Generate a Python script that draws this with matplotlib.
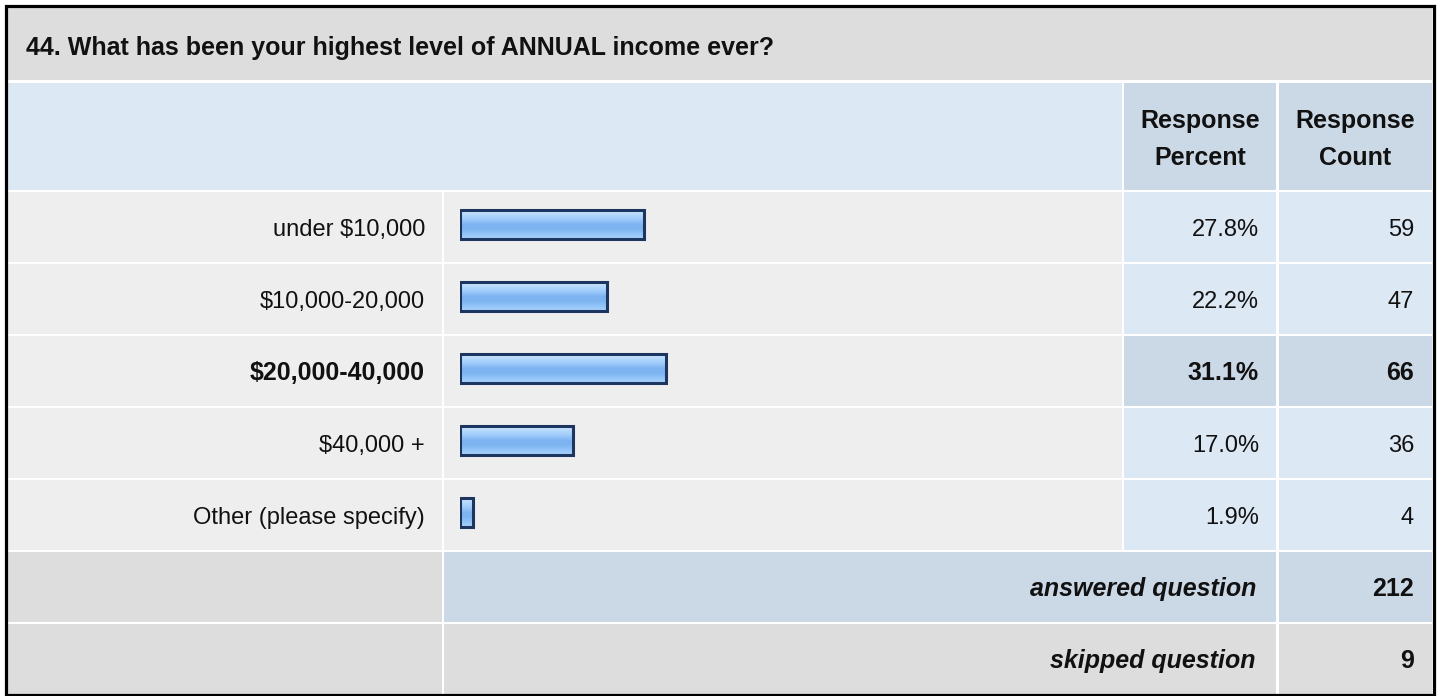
import numpy as np
import matplotlib
matplotlib.use("Agg")
import matplotlib.pyplot as plt
from matplotlib.patches import Rectangle

plt.rcParams['font.family'] = ['Liberation Sans', 'DejaVu Sans']

# data
title = "44. What has been your highest level of ANNUAL income ever?"
labels = ['under $10,000', '$10,000-20,000', '$20,000-40,000', '$40,000 +', 'Other (please specify)']
percents = [27.8, 22.2, 31.1, 17.0, 1.9]
counts = [59, 47, 66, 36, 4]
answered = 212
skipped = 9

GRAY = '#dddddd'
ROWBG = '#eeeeee'
LBLUE = '#dde8f5'
MBLUE = '#cbd8e6'
NAVY = '#1c3660'
TXT = '#111111'
FS, FSB = 17, 18   # normal / bold text sizes

W, H = 1440, 696
fig = plt.figure(figsize=(W / 100, H / 100), dpi=100)
ax = fig.add_axes([0, 0, 1, 1])
ax.set_xlim(0, W)
ax.set_ylim(H, 0)
ax.axis('off')

def cell(x0, x1, y0, y1, color):
    ax.add_patch(Rectangle((x0, y0), x1 - x0, y1 - y0, facecolor=color, edgecolor='none'))

# column / row edges (pixels)
cx = [8, 442, 444, 1122, 1124, 1276, 1279, 1432]
row0, pitch, rowh = 192, 72, 70

# title row
cell(8, 1432, 8, 80, GRAY)
ax.text(26, 55, title, fontsize=FSB, fontweight='bold', color=TXT, va='baseline')

# header row
cell(8, 1122, 83, 190, LBLUE)
cell(1124, 1276, 83, 190, MBLUE)
cell(1279, 1432, 83, 190, MBLUE)
for xc, l2 in [(1200, 'Percent'), (1355, 'Count')]:
    ax.text(xc, 128, 'Response', fontsize=FSB, fontweight='bold', ha='center', va='baseline', color=TXT)
    ax.text(xc, 165, l2, fontsize=FSB, fontweight='bold', ha='center', va='baseline', color=TXT)

top_i = int(np.argmax(counts))
for i, (lab, p, c) in enumerate(zip(labels, percents, counts)):
    y0 = row0 + pitch * i
    y1 = y0 + rowh
    hi = i == top_i
    cell(cx[0], cx[1], y0, y1, ROWBG)
    cell(cx[2], cx[3], y0, y1, ROWBG)
    cell(cx[4], cx[5], y0, y1, MBLUE if hi else LBLUE)
    cell(cx[6], cx[7], y0, y1, MBLUE if hi else LBLUE)
    base = y0 + 44
    fw = 'bold' if hi else 'normal'
    fs = FSB if hi else FS
    ax.text(425, base, lab, fontsize=fs, fontweight=fw, ha='right', va='baseline', color=TXT)
    ax.text(1259, base, f'{p:.1f}%', fontsize=fs, fontweight=fw, ha='right', va='baseline', color=TXT)
    ax.text(1414, base, str(c), fontsize=fs, fontweight=fw, ha='right', va='baseline', color=TXT)

# answered / skipped rows
ya = row0 + pitch * len(labels)
cell(cx[0], cx[1], ya, ya + rowh, GRAY)
cell(cx[2], cx[5], ya, ya + rowh, MBLUE)
cell(cx[6], cx[7], ya, ya + rowh, MBLUE)
ax.text(1256, ya + 44, 'answered question', fontsize=FSB, fontweight='bold', style='italic',
        ha='right', va='baseline', color=TXT)
ax.text(1414, ya + 44, str(answered), fontsize=FSB, fontweight='bold', ha='right', va='baseline', color=TXT)

ys = ya + pitch
cell(cx[0], cx[1], ys, ys + rowh + 1, GRAY)
cell(cx[2], cx[5], ys, ys + rowh + 1, GRAY)
cell(cx[6], cx[7], ys, ys + rowh + 1, GRAY)
ax.text(1256, ys + 44, 'skipped question', fontsize=FSB, fontweight='bold', style='italic',
        ha='right', va='baseline', color=TXT)
ax.text(1414, ys + 44, str(skipped), fontsize=FSB, fontweight='bold', ha='right', va='baseline', color=TXT)

# outer border
ax.add_patch(Rectangle((5.5, 6), 1428.5, 689, facecolor='none', edgecolor='black', linewidth=2.3))

# bars: 0..100% spans x 460..1122
bx0, bx1 = 460, 1122
axb = fig.add_axes([bx0 / W, 1 - (row0 + pitch * len(labels)) / H, (bx1 - bx0) / W, pitch * len(labels) / H])
axb.axis('off')
pos = np.arange(len(labels)) + 0.454
bh = 0.40
grad_cols = ['#cfe6ff', '#b4d8fd', '#9ccafa', '#7cb3f0', '#7fb5f2', '#93c4f8', '#a9d3fc']
cmap = matplotlib.colors.LinearSegmentedColormap.from_list('g', grad_cols)
grad = np.linspace(0, 1, 64).reshape(-1, 1)
bars = axb.barh(pos, percents, height=bh, facecolor='none', edgecolor=NAVY, linewidth=2.2, zorder=3)
for b, y, p in zip(bars, pos, percents):
    im = axb.imshow(grad, cmap=cmap, aspect='auto', extent=[0, p, y + bh / 2, y - bh / 2],
                    origin='upper', zorder=2)
    im.set_clip_path(b)
axb.set_xlim(0, 100)
axb.set_ylim(len(labels), 0)

fig.savefig('out.png', dpi=100, facecolor='white')
